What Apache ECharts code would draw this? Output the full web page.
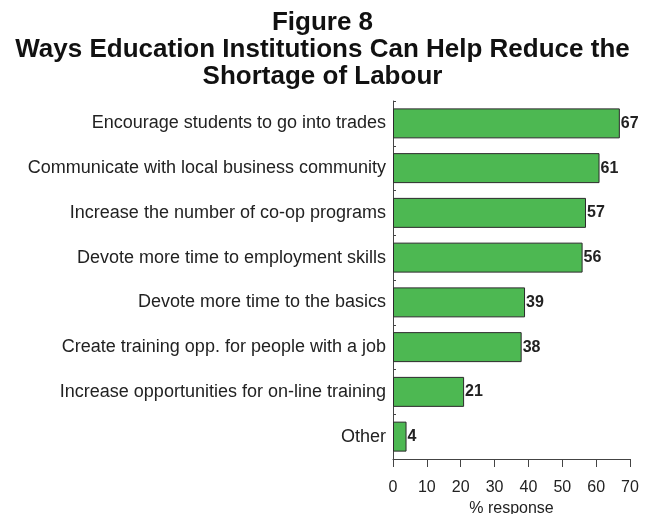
<!DOCTYPE html>
<html>
<head>
<meta charset="utf-8">
<script src="https://cdn.jsdelivr.net/npm/echarts@6/dist/echarts.min.js"></script>
<style>
  html, body { margin: 0; padding: 0; background: #fff; }
  #chart { width: 645px; height: 514px; }
</style>
</head>
<body>
<div id="chart"></div>
<script>
// Survey answers, listed top to bottom as drawn
const categories = [
  'Encourage students to go into trades',
  'Communicate with local business community',
  'Increase the number of co-op programs',
  'Devote more time to employment skills',
  'Devote more time to the basics',
  'Create training opp. for people with a job',
  'Increase opportunities for on-line training',
  'Other'
];
const responses = [67, 61, 57, 56, 39, 38, 21, 4];
const xTicks = [0, 10, 20, 30, 40, 50, 60, 70];

const FONT = '"Liberation Sans", Arial, sans-serif';
const chart = echarts.init(document.getElementById('chart'));

chart.setOption({
  animation: false,
  title: {
    text: 'Figure 8\nWays Education Institutions Can Help Reduce the\nShortage of Labour',
    left: 'center',
    top: 4,
    textStyle: {
      fontFamily: FONT,
      fontWeight: 'bold',
      fontSize: 26,
      lineHeight: 27,
      color: '#111'
    }
  },
  grid: {
    left: 393, right: 15, top: 101, bottom: 55,
    containLabel: false,
    outerBoundsMode: 'none'
  },
  xAxis: {
    type: 'value',
    min: xTicks[0],
    max: xTicks[xTicks.length - 1],
    interval: 10,
    name: '% response',
    nameLocation: 'middle',
    nameGap: 38,
    nameTextStyle: { fontFamily: FONT, fontSize: 16, color: '#222' },
    axisLine: { show: true, lineStyle: { color: '#444', width: 1 } },
    axisTick: { show: true, length: 8, lineStyle: { color: '#444' } },
    axisLabel: { fontFamily: FONT, fontSize: 16, color: '#222', margin: 21 },
    splitLine: { show: false }
  },
  yAxis: {
    type: 'category',
    data: categories,
    inverse: true,
    axisLine: { show: true, lineStyle: { color: '#444', width: 1 } },
    axisTick: { show: true, inside: true, length: 3, lineStyle: { color: '#444' } },
    axisLabel: { fontFamily: FONT, fontSize: 18, color: '#222', margin: 7 }
  },
  series: [{
    type: 'bar',
    data: responses,
    barCategoryGap: '33%',
    itemStyle: {
      color: '#4db852',
      borderColor: '#2a2a2a',
      borderWidth: 1
    },
    label: {
      show: true,
      position: 'right',
      distance: 1,
      fontFamily: FONT,
      fontWeight: 'bold',
      fontSize: 16,
      color: '#222'
    }
  }]
});
</script>
</body>
</html>
